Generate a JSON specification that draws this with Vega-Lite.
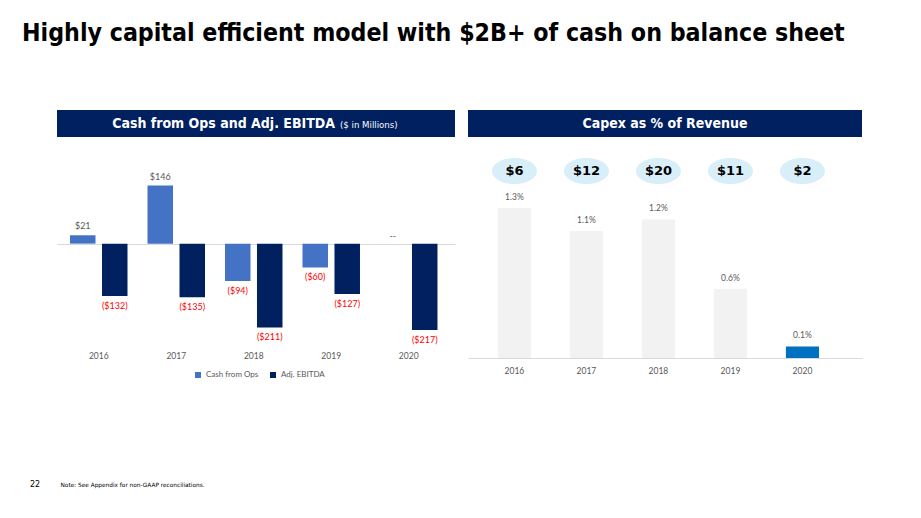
{
  "$schema": "https://vega.github.io/schema/vega-lite/v6.json",
  "background": "white",
  "padding": {"left": 22, "top": 21, "right": 5, "bottom": 5},
  "title": {
    "text": "Highly capital efficient model with $2B+ of cash on balance sheet",
    "anchor": "start", "frame": "group", "dx": -35, "offset": 64,
    "font": "DejaVu Sans Condensed", "fontWeight": "bold", "fontSize": 24.7, "color": "#000000"
  },
  "config": {"view": {"stroke": null}, "font": "Lato"},
  "spacing": 105,
  "vconcat": [
    {
      "spacing": 13,
      "hconcat": [
        {
          "spacing": 16,
          "vconcat": [
            {
              "width": 398, "height": 27,
              "view": {"fill": "#002060", "stroke": null},
              "data": {"values": [{"a": "Cash from Ops and Adj. EBITDA", "b": "($ in Millions)"}]},
              "layer": [
                {"mark": {"type": "text", "align": "right", "baseline": "middle", "dx": 79, "font": "DejaVu Sans Condensed", "fontWeight": "bold", "fontSize": 14, "color": "white"},
                 "encoding": {"text": {"field": "a"}}},
                {"mark": {"type": "text", "align": "left", "baseline": "middle", "dx": 84, "dy": 1, "font": "DejaVu Sans", "fontSize": 8.6, "color": "white"},
                 "encoding": {"text": {"field": "b"}}}
              ]
            },
            {
              "width": 398, "height": 190,
              "data": {"values": [
                {"year": "2016", "metric": "Cash from Ops", "value": 21},
                {"year": "2016", "metric": "Adj. EBITDA", "value": -132},
                {"year": "2017", "metric": "Cash from Ops", "value": 146},
                {"year": "2017", "metric": "Adj. EBITDA", "value": -135},
                {"year": "2018", "metric": "Cash from Ops", "value": -94},
                {"year": "2018", "metric": "Adj. EBITDA", "value": -211},
                {"year": "2019", "metric": "Cash from Ops", "value": -60},
                {"year": "2019", "metric": "Adj. EBITDA", "value": -127},
                {"year": "2020", "metric": "Cash from Ops", "value": null},
                {"year": "2020", "metric": "Adj. EBITDA", "value": -217}
              ]},
              "encoding": {
                "x": {"field": "year", "type": "nominal",
                      "scale": {"paddingInner": 0.258, "paddingOuter": 0.197, "align": 0.426},
                      "axis": {"title": null, "labelAngle": 0, "domain": false, "ticks": false, "labelPadding": 8, "labelColor": "#595959", "labelFontSize": 8.5, "labelFont": "Lato"}},
                "xOffset": {"field": "metric", "type": "nominal", "sort": ["Cash from Ops", "Adj. EBITDA"], "scale": {"paddingInner": 0.203, "paddingOuter": 0}}
              },
              "layer": [
                {
                  "mark": {"type": "bar"},
                  "encoding": {
                    "y": {"field": "value", "type": "quantitative", "scale": {"domain": [-250, 228], "nice": false, "zero": false},
                          "axis": {"values": [0], "grid": true, "gridColor": "#D9D9D9", "labels": false, "ticks": false, "domain": false, "title": null}},
                    "color": {"field": "metric", "type": "nominal", "sort": ["Cash from Ops", "Adj. EBITDA"],
                              "scale": {"domain": ["Cash from Ops", "Adj. EBITDA"], "range": ["#4472C4", "#002060"]},
                              "legend": {"orient": "none", "legendX": 137, "legendY": 261, "direction": "horizontal", "title": null,
                                         "symbolType": "square", "symbolSize": 36, "labelFontSize": 8, "labelOffset": 4, "labelColor": "#595959", "labelFont": "Lato", "columnPadding": 10}}
                  }
                },
                {
                  "transform": [{"filter": "datum.value > 0"}],
                  "mark": {"type": "text", "baseline": "bottom", "dy": -4, "color": "#595959", "fontSize": 9, "font": "Lato"},
                  "encoding": {
                    "y": {"field": "value", "type": "quantitative"},
                    "text": {"field": "value", "type": "quantitative", "format": "($.0f"}
                  }
                },
                {
                  "transform": [{"filter": "datum.value < 0"}],
                  "mark": {"type": "text", "baseline": "top", "dy": 6, "color": "#FF0000", "fontSize": 9, "font": "Lato"},
                  "encoding": {
                    "y": {"field": "value", "type": "quantitative"},
                    "text": {"field": "value", "type": "quantitative", "format": "($.0f"}
                  }
                },
                {
                  "transform": [{"filter": "datum.value === null"}],
                  "mark": {"type": "text", "baseline": "bottom", "dy": -3, "color": "#595959", "fontSize": 9, "font": "Lato", "text": "--"},
                  "encoding": {
                    "y": {"datum": 0, "type": "quantitative"}
                  }
                }
              ]
            }
          ]
        },
        {
          "spacing": 16,
          "vconcat": [
            {
              "width": 394, "height": 27,
              "view": {"fill": "#002060", "stroke": null},
              "data": {"values": [{"a": "Capex as % of Revenue"}]},
              "mark": {"type": "text", "align": "center", "baseline": "middle", "font": "DejaVu Sans Condensed", "fontWeight": "bold", "fontSize": 14, "color": "white"},
              "encoding": {"text": {"field": "a"}}
            },
            {
              "width": 394, "height": 205,
              "data": {"values": [
                {"year": "2016", "pct": 0.013, "capex": 6},
                {"year": "2017", "pct": 0.011, "capex": 12},
                {"year": "2018", "pct": 0.012, "capex": 20},
                {"year": "2019", "pct": 0.006, "capex": 11},
                {"year": "2020", "pct": 0.001, "capex": 2}
              ]},
              "encoding": {
                "x": {"field": "year", "type": "nominal",
                      "scale": {"paddingInner": 0.54, "paddingOuter": 0.506, "align": 0.41},
                      "axis": {"title": null, "labelAngle": 0, "domain": true, "domainColor": "#D9D9D9", "ticks": false, "labelPadding": 8, "labelColor": "#595959", "labelFontSize": 8.5, "labelFont": "Lato"}}
              },
              "layer": [
                {
                  "mark": {"type": "bar"},
                  "encoding": {
                    "y": {"field": "pct", "type": "quantitative", "scale": {"domain": [0, 0.01776], "nice": false}, "axis": null},
                    "color": {"condition": {"test": "datum.year === '2020'", "value": "#0070C0"}, "value": "#F2F2F2"}
                  }
                },
                {
                  "mark": {"type": "text", "baseline": "bottom", "dy": -6, "color": "#595959", "fontSize": 8.5, "font": "Lato"},
                  "encoding": {
                    "y": {"field": "pct", "type": "quantitative"},
                    "text": {"field": "pct", "type": "quantitative", "format": ".1%"}
                  }
                },
                {
                  "mark": {"type": "point", "shape": "M -1 0 A 1 0.58 0 1 0 1 0 A 1 0.58 0 1 0 -1 0 Z", "size": 2025, "filled": true, "opacity": 1, "color": "#D8EFF9", "strokeWidth": 0},
                  "encoding": {"y": {"datum": 0.0162, "type": "quantitative"}}
                },
                {
                  "mark": {"type": "text", "baseline": "middle", "color": "#000000", "fontSize": 13, "fontWeight": "bold", "font": "DejaVu Sans"},
                  "encoding": {
                    "y": {"datum": 0.0162, "type": "quantitative"},
                    "text": {"field": "capex", "type": "quantitative", "format": "$.0f"}
                  }
                }
              ]
            }
          ]
        }
      ]
    },
    {
      "width": 1, "height": 1,
      "data": {"values": [{"n": "22", "t": "Note: See Appendix for non-GAAP reconciliations."}]},
      "layer": [
        {"mark": {"type": "text", "align": "left", "baseline": "middle", "dx": -27.5, "fontSize": 8, "font": "DejaVu Sans", "color": "#000000"},
         "encoding": {"text": {"field": "n"}}},
        {"mark": {"type": "text", "align": "left", "baseline": "middle", "dx": 3, "fontSize": 5.8, "font": "DejaVu Sans", "color": "#000000"},
         "encoding": {"text": {"field": "t"}}}
      ]
    }
  ]
}
